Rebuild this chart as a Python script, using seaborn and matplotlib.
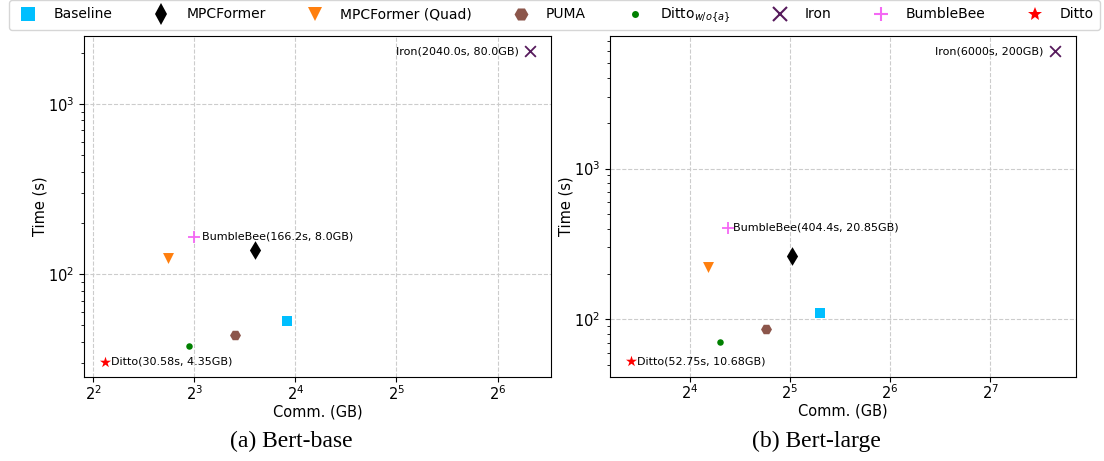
#! /usr/bin/env python3
'''
Time vs. communication for private inference methods (Bert-base / Bert-large)
'''
import matplotlib
matplotlib.use('Agg')
import matplotlib.pyplot as plt
from matplotlib.lines import Line2D
import pandas as pd
import seaborn as sns

# data
methods = ['Baseline', 'MPCFormer', 'MPCFormer (Quad)', 'PUMA', 'Ditto_wo', 'Iron', 'BumbleBee', 'Ditto']
labels = ['Baseline', 'MPCFormer', 'MPCFormer (Quad)', 'PUMA', r'Ditto$_{w/o\{a\}}$', 'Iron', 'BumbleBee', 'Ditto']
base_comm = [15.1, 12.1, 6.7, 10.6, 7.7, 80.0, 8.0, 4.35]
base_time = [53.0, 139.0, 124.0, 44.0, 37.6, 2040.0, 166.2, 30.58]
large_comm = [39.4, 32.5, 18.2, 27.2, 19.7, 200.0, 20.85, 10.68]
large_time = [110.0, 264.0, 224.0, 86.7, 70.5, 6000.0, 404.4, 52.75]

# styles
markers = {'Baseline': 's', 'MPCFormer': 'd', 'MPCFormer (Quad)': 'v', 'PUMA': 'H',
           'Ditto_wo': 'o', 'Iron': 'x', 'BumbleBee': '+', 'Ditto': '*'}
colors = {'Baseline': '#00bfff', 'MPCFormer': 'black', 'MPCFormer (Quad)': '#ff7f0e', 'PUMA': '#8c564b',
          'Ditto_wo': 'green', 'Iron': '#561a5c', 'BumbleBee': '#f468f4', 'Ditto': 'red'}
sizes = {'Baseline': 52, 'MPCFormer': 90, 'MPCFormer (Quad)': 62, 'PUMA': 62,
         'Ditto_wo': 22, 'Iron': 60, 'BumbleBee': 70, 'Ditto': 70}

df_base = pd.DataFrame({'method': methods, 'comm': base_comm, 'time': base_time})
df_large = pd.DataFrame({'method': methods, 'comm': large_comm, 'time': large_time})

fig = plt.figure(figsize=(11.04, 4.61), dpi=100)
ax1 = fig.add_axes([0.0761, 0.1816, 0.4233, 0.741])
ax2 = fig.add_axes([0.5525, 0.1829, 0.4221, 0.7396])


def draw(ax, df, notes):
    for m in methods:
        sub = df[df['method'] == m]
        lw = 1.3 if markers[m] in ('x', '+') else 0
        sns.scatterplot(data=sub, x='comm', y='time', marker=markers[m], color=colors[m],
                        s=sizes[m], linewidth=lw, ax=ax, legend=False, zorder=3)
    ax.set_xscale('log', base=2)
    ax.set_yscale('log')
    ax.grid(True, which='major', linestyle='--', color='#cccccc', linewidth=0.8)
    ax.set_axisbelow(True)
    ax.set_xlabel('Comm. (GB)', fontsize=10.5, labelpad=1)
    ax.set_ylabel('Time (s)', fontsize=10.5, labelpad=0)
    ax.tick_params(labelsize=10.5)
    ax.tick_params(axis='x', pad=1.5)
    for m, txt, ha, dx in notes:
        row = df[df['method'] == m].iloc[0]
        ax.annotate(txt, (row['comm'], row['time']), xytext=(dx, 0), textcoords='offset points',
                    ha=ha, va='center', fontsize=8)


draw(ax1, df_base, [('Iron', 'Iron(2040.0s, 80.0GB)', 'right', -8),
                    ('BumbleBee', 'BumbleBee(166.2s, 8.0GB)', 'left', 6),
                    ('Ditto', 'Ditto(30.58s, 4.35GB)', 'left', 4)])
draw(ax2, df_large, [('Iron', 'Iron(6000s, 200GB)', 'right', -8),
                     ('BumbleBee', 'BumbleBee(404.4s, 20.85GB)', 'left', 4),
                     ('Ditto', 'Ditto(52.75s, 10.68GB)', 'left', 4)])

# captions
fig.text(291 / 1104, 0.0434, '(a) Bert-base', ha='center', va='center',
         fontsize=17, family='Liberation Serif')
fig.text(816 / 1104, 0.0434, '(b) Bert-large', ha='center', va='center',
         fontsize=17, family='Liberation Serif')

# shared legend
handles = []
for m in methods:
    ms = {'Ditto_wo': 5, 'MPCFormer': 11}.get(m, 10)
    mew = 1.5 if markers[m] in ('x', '+') else 0
    handles.append(Line2D([], [], linestyle='', marker=markers[m], color=colors[m],
                          markersize=ms, markeredgewidth=mew))
fig.legend(handles, labels, loc='upper left', ncol=8, mode='expand',
           bbox_to_anchor=(0.008, 0.998, 0.988, 0.002), fontsize=10, borderaxespad=0)

fig.savefig('out.png', dpi=100)
